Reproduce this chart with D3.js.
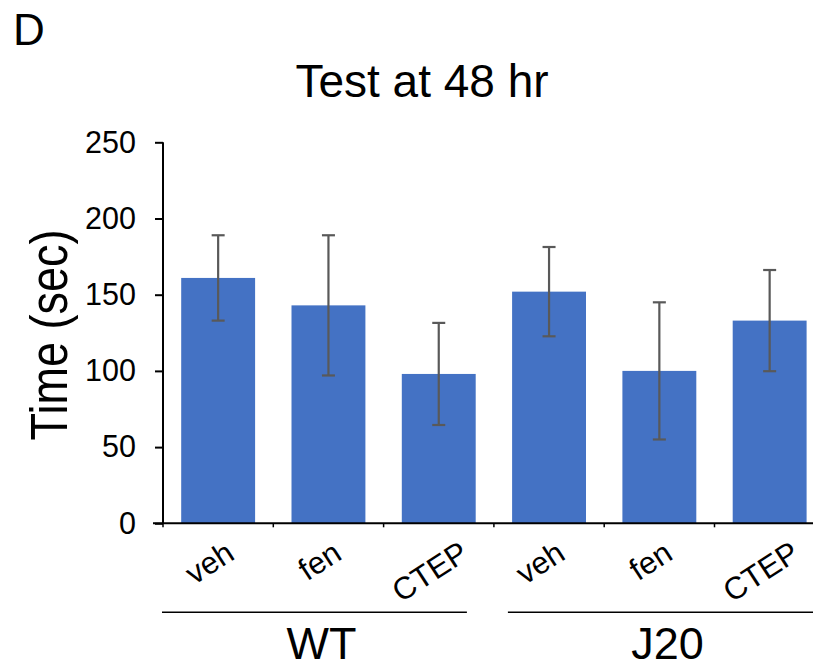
<!DOCTYPE html>
<html>
<head>
<meta charset="utf-8">
<script src="https://cdn.jsdelivr.net/npm/d3@7"></script>
<style>
  body { margin: 0; background: #fff; }
  text { font-family: "Liberation Sans", Arial, sans-serif; }
</style>
</head>
<body>
<div id="chart"></div>
<script>
// data
const categories = ["veh", "fen", "CTEP", "veh", "fen", "CTEP"];
const groups = ["WT", "WT", "WT", "J20", "J20", "J20"];
const groupNames = ["WT", "J20"];
const means = [161, 143, 98, 152, 100, 133];
const errs = [28, 46, 33.5, 29.3, 45, 33.2];
const yTicks = [0, 50, 100, 150, 200, 250];

const W = 813, H = 668;
const svg = d3.select("#chart").append("svg")
    .attr("width", W)
    .attr("height", H);

const x0 = 163, yBottom = 523.3, yTop = 142.3;
const step = 110.3;

const x = d3.scaleBand()
    .domain(d3.range(categories.length))
    .range([x0, x0 + step * categories.length])
    .paddingInner(0.33)
    .paddingOuter(0.165);

const y = d3.scaleLinear()
    .domain([0, 250])
    .range([yBottom, yTop]);

// panel letter + title
svg.append("text").attr("x", 13).attr("y", 45).text("D")
    .style("font-size", "44px").attr("fill", "#000");
svg.append("text").attr("x", 422).attr("y", 97).text("Test at 48 hr")
    .attr("text-anchor", "middle")
    .style("font-size", "46px").attr("fill", "#000");

// bars
svg.selectAll("rect.bar")
    .data(means)
    .enter().append("rect")
    .classed("bar", true)
    .attr("x", (d, i) => x(i))
    .attr("y", d => y(d))
    .attr("width", x.bandwidth())
    .attr("height", d => y(0) - y(d))
    .attr("fill", "#4472C4");

// error bars
const eb = svg.selectAll("g.err")
    .data(means)
    .enter().append("g")
    .classed("err", true)
    .attr("stroke", "#595959")
    .attr("stroke-width", 2.2);
eb.append("line")
    .attr("x1", (d, i) => x(i) + x.bandwidth() / 2)
    .attr("x2", (d, i) => x(i) + x.bandwidth() / 2)
    .attr("y1", (d, i) => y(d + errs[i]))
    .attr("y2", (d, i) => y(d - errs[i]));
eb.append("line")
    .attr("x1", (d, i) => x(i) + x.bandwidth() / 2 - 6.5)
    .attr("x2", (d, i) => x(i) + x.bandwidth() / 2 + 6.5)
    .attr("y1", (d, i) => y(d + errs[i]))
    .attr("y2", (d, i) => y(d + errs[i]));
eb.append("line")
    .attr("x1", (d, i) => x(i) + x.bandwidth() / 2 - 6.5)
    .attr("x2", (d, i) => x(i) + x.bandwidth() / 2 + 6.5)
    .attr("y1", (d, i) => y(d - errs[i]))
    .attr("y2", (d, i) => y(d - errs[i]));

// y axis
const yAxis = svg.append("g")
    .attr("transform", "translate(" + x0 + ",0)")
    .call(d3.axisLeft(y).tickValues(yTicks).tickSize(8).tickPadding(19));
yAxis.select(".domain").attr("stroke", "#000").attr("stroke-width", 2)
    .attr("d", "M0," + yTop + "V" + yBottom);
yAxis.selectAll(".tick line").attr("stroke", "#000").attr("stroke-width", 2);
yAxis.selectAll(".tick text")
    .style("font-size", "30.5px")
    .style("font-family", "Liberation Sans, Arial, sans-serif")
    .attr("fill", "#000");

// x axis line with boundary ticks
const xEnd = x0 + step * categories.length;
svg.append("line")
    .attr("x1", 153).attr("x2", xEnd)
    .attr("y1", yBottom).attr("y2", yBottom)
    .attr("stroke", "#000").attr("stroke-width", 2);
svg.selectAll("line.xtick")
    .data(d3.range(categories.length + 1))
    .enter().append("line")
    .classed("xtick", true)
    .attr("x1", i => x0 + step * i)
    .attr("x2", i => x0 + step * i)
    .attr("y1", yBottom).attr("y2", yBottom + 4)
    .attr("stroke", "#000").attr("stroke-width", 1.5);

// rotated category labels
const ang = 33;
svg.selectAll("text.cat")
    .data(categories)
    .enter().append("text")
    .classed("cat", true)
    .text(d => d)
    .attr("text-anchor", "end")
    .style("font-size", "31px")
    .attr("fill", "#000")
    .each(function (d, i) {
        const L = this.getComputedTextLength();
        const cx = x(i) + x.bandwidth() / 2 + L * Math.cos(ang * Math.PI / 180) / 2 - 3;
        d3.select(this).attr("transform", "translate(" + cx + ",558) rotate(-" + ang + ")");
    });

// y label (glyphs look a bit stretched in the original)
svg.append("text")
    .attr("transform", "translate(67,335) rotate(-90) scale(1,1.15)")
    .attr("text-anchor", "middle")
    .text("Time (sec)")
    .style("font-size", "45px").attr("fill", "#000");

// group lines and labels
groupNames.forEach((g, k) => {
    const idx = d3.range(categories.length).filter(i => groups[i] === g);
    const gx0 = x0 + step * idx[0];
    const gx1 = x0 + step * (idx[idx.length - 1] + 1);
    const lx0 = gx0 - 1 + 15 * k, lx1 = Math.min(W, gx1 - 27 + 27 * k);
    svg.append("line")
        .attr("x1", lx0).attr("x2", lx1)
        .attr("y1", 612.3).attr("y2", 612.3)
        .attr("stroke", "#000").attr("stroke-width", 1.5);
    svg.append("text")
        .attr("x", (lx0 + lx1) / 2 + 7)
        .attr("y", 659)
        .attr("text-anchor", "middle")
        .text(g)
        .style("font-size", "45px").attr("fill", "#000");
});
</script>
</body>
</html>
